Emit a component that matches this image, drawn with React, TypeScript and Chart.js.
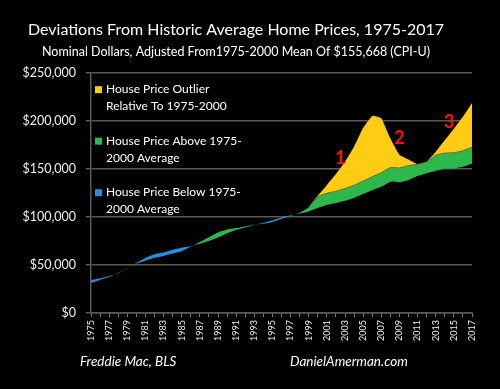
import React, { useEffect, useRef } from 'react';
import { Chart, registerables } from 'chart.js';

Chart.register(...registerables);

const years = [
  '1975', '1976', '1977', '1978', '1979', '1980', '1981', '1982', '1983', '1984',
  '1985', '1986', '1987', '1988', '1989', '1990', '1991', '1992', '1993', '1994',
  '1995', '1996', '1997', '1998', '1999', '2000', '2001', '2002', '2003', '2004',
  '2005', '2006', '2007', '2008', '2009', '2010', '2011', '2012', '2013', '2014',
  '2015', '2016', '2017',
];

// 1975-2000 mean, carried through the years by CPI-U (nominal dollars)
const averageLine = [
  34200, 36100, 38500, 41400, 46100, 52300, 57700, 61300, 63300, 66000,
  68300, 69600, 72100, 75100, 78800, 83000, 86500, 89100, 91800, 94100,
  96800, 99600, 101900, 103500, 105800, 109400, 112500, 114300, 116900, 120000,
  124000, 128000, 131700, 136700, 136200, 138500, 142800, 145800, 148000, 150300,
  150500, 152400, 155700,
];

// top of the "above average" band
const aboveAverageCap = [
  37960, 40070, 42700, 45950, 51200, 58100, 64000, 68000, 70300, 73300,
  75800, 77300, 80000, 83400, 87500, 92100, 96000, 98900, 101900, 104500,
  107400, 110600, 113100, 114900, 117400, 121400, 124900, 126900, 129800, 133200,
  137600, 142100, 146200, 151700, 151200, 153700, 158500, 161800, 164300, 166800,
  167100, 169200, 172800,
];

// nominal house price
const housePrice = [
  31500, 34500, 37500, 42000, 46500, 51500, 54500, 57500, 59500, 62000,
  64500, 69000, 74000, 79000, 84000, 87000, 88500, 90300, 92000, 93000,
  95000, 98000, 101000, 104500, 110000, 122500, 133300, 144800, 157600, 173200,
  193000, 205500, 203000, 182000, 165000, 160000, 155000, 157500, 168000, 180000,
  192000, 204500, 219000,
];

const yTickValues = [0, 50000, 100000, 150000, 200000, 250000];

const legendLines = [
  ['House Price Outlier', 'Relative To 1975-2000'],
  ['House Price Above 1975-', '2000 Average'],
  ['House Price Below 1975-', '2000 Average'],
];

const calloutLabels = ['1', '2', '3'];
const calloutYears = [2002.5, 2009, 2014.5];
const calloutValues = [161500, 182000, 199000];

const YELLOW = '#FFCC14';
const GREEN = '#2DB84C';
const BLUE = '#2A8CE0';
const GRID = '#5a5a5a';
const FONT = 'Lato, "Noto Sans", sans-serif';

const legendColors = [YELLOW, GREEN, BLUE];

const overlayPlugin = {
  id: 'overlayText',
  afterDraw(chart: any) {
    const { ctx, scales, chartArea } = chart;
    const xs = scales.x;
    const ys = scales.y;
    ctx.save();

    // callout numbers
    ctx.fillStyle = '#ff1010';
    ctx.font = `bold 18px ${FONT}`;
    ctx.textAlign = 'center';
    ctx.textBaseline = 'middle';
    calloutLabels.forEach((lab, i) => {
      const px = xs.getPixelForValue(calloutYears[i] - 1975);
      const py = ys.getPixelForValue(calloutValues[i]);
      ctx.fillText(lab, px, py);
    });

    // legend
    ctx.textAlign = 'left';
    ctx.textBaseline = 'alphabetic';
    ctx.font = `12px ${FONT}`;
    const left = chartArea.left;
    const top = chartArea.top;
    legendLines.forEach((lines, i) => {
      const base = top + 20 + i * 51.5;
      ctx.fillStyle = legendColors[i];
      ctx.fillRect(left + 4, base - 7, 7, 7);
      ctx.fillStyle = '#ffffff';
      lines.forEach((t, j) => ctx.fillText(t, left + 15, base + j * 16.8));
    });

    // sources
    ctx.font = `italic 13.5px ${FONT}`;
    ctx.fillStyle = '#ffffff';
    ctx.fillText('Freddie Mac, BLS', 80, 366);
    ctx.fillText('DanielAmerman.com', 290, 366);
    ctx.restore();
  },
};

export default function App() {
  const canvasRef = useRef<HTMLCanvasElement | null>(null);

  useEffect(() => {
    const canvas = canvasRef.current;
    if (!canvas) return;
    const greenTop = housePrice.map((p, i) => Math.min(p, aboveAverageCap[i]));
    const isOut = (i: number) => i >= 0 && i < housePrice.length && housePrice[i] > aboveAverageCap[i];
    const capEdge = greenTop.map((v, i) => (isOut(i) || isOut(i - 1) || isOut(i + 1) ? v : null));
    const tension = 0.1;
    const chart = new Chart(canvas, {
      type: 'line',
      data: {
        labels: years,
        datasets: [
          {
            label: 'Outlier edge',
            data: capEdge,
            borderColor: '#8a6a2a',
            borderWidth: 1,
            pointRadius: 0,
            fill: false,
            spanGaps: false,
            tension,
          },
          {
            label: 'Average',
            data: averageLine,
            borderColor: 'rgba(0,0,0,0)',
            borderWidth: 0,
            pointRadius: 0,
            fill: false,
            tension,
          },
          {
            label: 'Above / Below Average',
            data: greenTop,
            borderColor: 'rgba(0,0,0,0)',
            borderWidth: 0,
            pointRadius: 0,
            fill: { target: 1, above: GREEN, below: BLUE },
            tension,
          },
          {
            label: 'Outlier',
            data: housePrice,
            borderColor: 'rgba(0,0,0,0)',
            borderWidth: 0,
            pointRadius: 0,
            backgroundColor: YELLOW,
            fill: 2,
            tension,
          },
        ],
      },
      options: {
        responsive: false,
        animation: false,
        events: [],
        layout: { padding: { left: 0, right: 28, top: 0, bottom: 0 } },
        plugins: {
          legend: { display: false },
          tooltip: { enabled: false },
          title: {
            display: true,
            text: 'Deviations From Historic Average Home Prices, 1975-2017',
            color: '#ffffff',
            font: { family: FONT, size: 16, weight: 'normal' },
            padding: { top: 20, bottom: 0 },
          },
          subtitle: {
            display: true,
            text: 'Nominal Dollars, Adjusted From1975-2000 Mean Of $155,668 (CPI-U)',
            color: '#ffffff',
            font: { family: FONT, size: 12.5, weight: 'normal' },
            padding: { top: 5, bottom: 14 },
          },
        },
        scales: {
          x: {
            type: 'category',
            offset: false,
            grid: {
              display: true,
              drawOnChartArea: false,
              drawTicks: true,
              tickLength: 4,
              color: '#777777',
              lineWidth: 1,
            },
            border: { display: true, color: GRID, width: 1.5 },
            ticks: {
              autoSkip: false,
              minRotation: 90,
              maxRotation: 90,
              padding: 3,
              color: '#f0f0f0',
              font: { family: FONT, size: 9 },
              callback: (_v: any, i: number) => (i % 2 === 0 ? years[i] : ''),
            },
            afterFit: (s: any) => {
              s.height = 76;
            },
          },
          y: {
            min: 0,
            max: 250000,
            afterBuildTicks: (s: any) => {
              s.ticks = yTickValues.map((v) => ({ value: v }));
            },
            grid: {
              color: GRID,
              lineWidth: 1.5,
              drawTicks: true,
              tickLength: 5,
            },
            border: { display: true, color: GRID, width: 1.5 },
            ticks: {
              padding: 10,
              color: '#f0f0f0',
              font: { family: FONT, size: 12.5 },
              callback: (v: any) => '$' + Number(v).toLocaleString('en-US'),
            },
            afterFit: (s: any) => {
              s.width = 91;
            },
          },
        },
      },
      plugins: [overlayPlugin],
    });
    return () => chart.destroy();
  }, []);

  return (
    <div
      style={{
        position: 'fixed',
        left: 0,
        top: 0,
        width: 500,
        height: 389,
        background: '#000000',
      }}
    >
      <canvas ref={canvasRef} width={500} height={389} style={{ display: 'block' }} />
    </div>
  );
}
